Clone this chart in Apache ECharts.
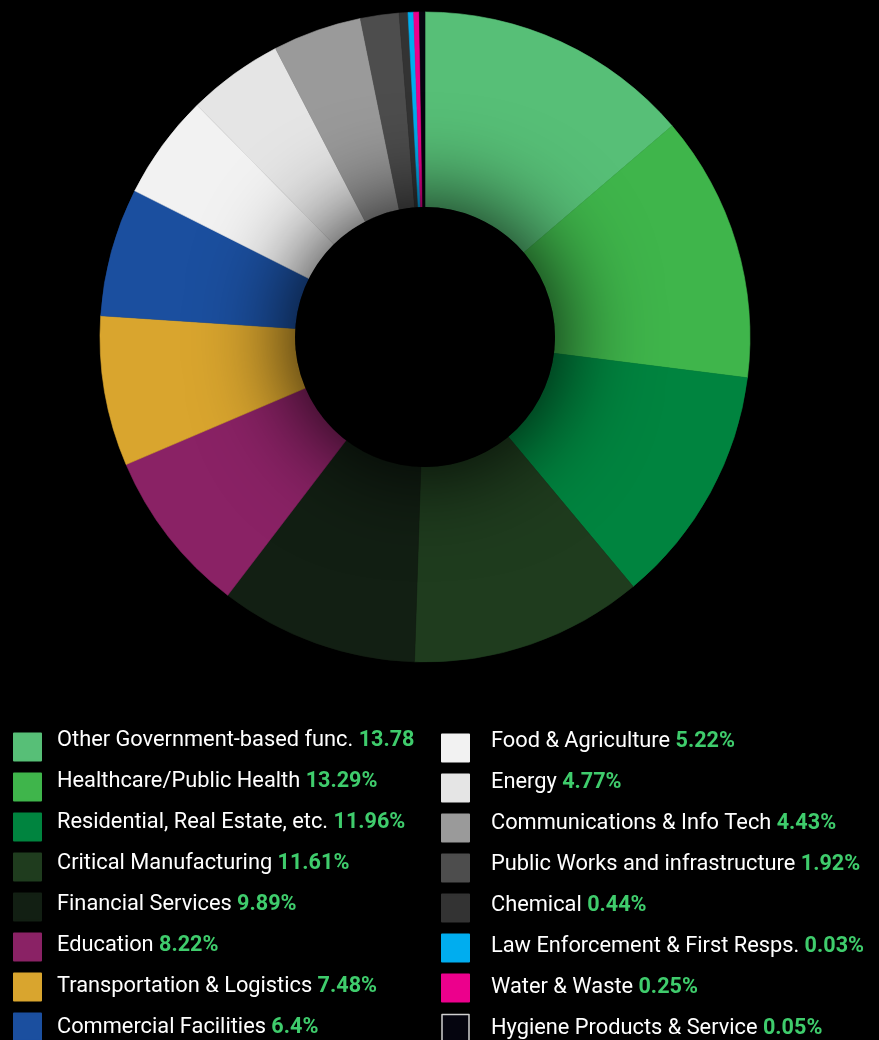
<!DOCTYPE html>
<html><head><meta charset="utf-8">
<script src="https://cdn.jsdelivr.net/npm/echarts@6/dist/echarts.min.js"></script>
<style>html,body{margin:0;padding:0;background:#000;}#c{width:879px;height:1040px;}</style>
</head><body><div id="c"></div>
<script>
const categories = ["Other Government-based func.","Healthcare/Public Health","Residential, Real Estate, etc.","Critical Manufacturing","Financial Services","Education","Transportation & Logistics","Commercial Facilities","Food & Agriculture","Energy","Communications & Info Tech","Public Works and infrastructure","Chemical","Law Enforcement & First Resps.","Water & Waste","Hygiene Products & Service"];
const values = [13.78,13.29,11.96,11.61,9.89,8.22,7.48,6.4,5.22,4.77,4.43,1.92,0.44,0.03,0.25,0.05];
const valueLabels = ["13.78","13.29%","11.96%","11.61%","9.89%","8.22%","7.48%","6.4%","5.22%","4.77%","4.43%","1.92%","0.44%","0.03%","0.25%","0.05%"];
const colors = ["#57bf77","#3fb54b","#00843f","#1f3c1e","#121f13","#8a2265","#d9a52e","#1b4f9f","#f2f2f2","#e5e5e5","#9a9a9a","#4d4d4d","#333333","#00adef","#ec008c","#05050f"];

const chart = echarts.init(document.getElementById('c'), null, {renderer:'canvas'});
const data = categories.map((n,i)=>({name:n, value:values[i], itemStyle:{color:colors[i], borderColor:colors[i], borderWidth:0.6}}));
const labelMap = {}; categories.forEach((n,i)=>labelMap[n]=valueLabels[i]);
function legendCfg(names, left, top, gap){
  return {
    data: names.map((n,i)=>{
      const o={name:n, icon:'rect', textStyle:{padding:[i+2,0,14-i,gap]}};
      if(n==="Hygiene Products & Service") o.itemStyle={color:'#05050f',borderColor:'#d0d0d0',borderWidth:1.5};
      return o;
    }),
    orient:'vertical', left:left, top:top, height:400, padding:0,
    itemWidth:27, itemHeight:27, itemGap:0,
    selectedMode:false,
    formatter: n => n + ' {v|' + labelMap[n] + '}',
    textStyle:{color:'#ffffff', fontFamily:'Roboto', fontSize:21.8, lineHeight:24, padding:[0,0,16,gap],
      rich:{v:{color:'#3fcc6c', fontFamily:'Roboto', fontSize:21.6, fontWeight:'bold', lineHeight:24}}}
  };
}
chart.setOption({
  backgroundColor:'#000',
  animation:false,
  legend:[legendCfg(categories.slice(0,8), 13, 727, 11), legendCfg(categories.slice(8), 441, 728, 17)],
  series:[{
    type:'pie', center:[425,337], radius:[130,325], startAngle:90, clockwise:true,
    minAngle:1, avoidLabelOverlap:false, label:{show:false}, labelLine:{show:false},
    emphasis:{disabled:true},
    data:data
  }],
  graphic:[{type:'circle', z:100, shape:{cx:425, cy:337, r:130},
    style:{fill:'#000', shadowBlur:100, shadowColor:'rgba(0,0,0,1)'}}]
});
</script></body></html>
